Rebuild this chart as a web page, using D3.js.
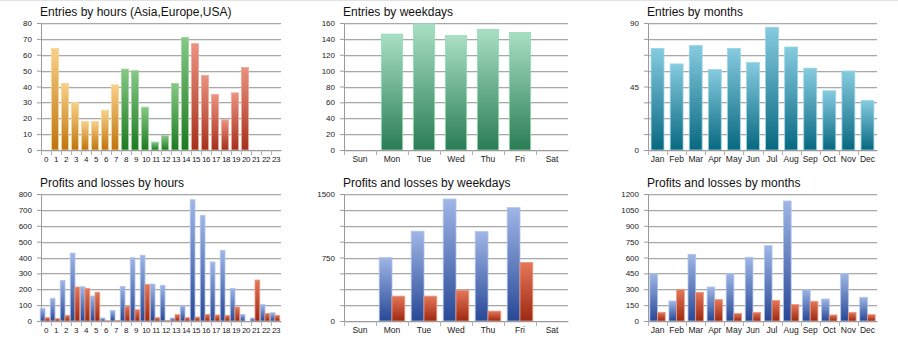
<!DOCTYPE html>
<html lang="en">
<head>
<meta charset="UTF-8">
<title>Entries and profits</title>
<script src="https://d3js.org/d3.v7.min.js"></script>
<style>
  body { margin: 0; background: #fff; }
  text { font-family: "Liberation Sans", Arial, sans-serif; }
</style>
</head>
<body>
<svg width="898" height="354"></svg>
<script>
// ---- data ----
var hourLabels = ["0","1","2","3","4","5","6","7","8","9","10","11","12","13","14","15","16","17","18","19","20","21","22","23"];
var hourEntries = [0,64,42,30,18,18,25,41,51,50,27,5,9,42,71,67,47,35,19,36,52,0,0,0];
var hourRegion = ["asia","asia","asia","asia","asia","asia","asia","asia",
                  "europe","europe","europe","europe","europe","europe","europe",
                  "usa","usa","usa","usa","usa","usa","usa","usa","usa"];
var hourProfits = [80,143,256,428,216,157,19,67,218,399,414,233,225,19,99,764,666,372,445,206,42,19,103,52];
var hourLosses  = [21,15,36,214,206,181,2,4,92,71,231,21,4,40,21,25,42,38,36,88,0,258,48,36];

var dayLabels = ["Sun","Mon","Tue","Wed","Thu","Fri","Sat"];
var dayEntries = [0,146,159,144,152,148,0];
var dayProfits = [0,748,1061,1441,1057,1339,0];
var dayLosses  = [0,294,294,364,117,693,0];

var monthLabels = ["Jan","Feb","Mar","Apr","May","Jun","Jul","Aug","Sep","Oct","Nov","Dec"];
var monthEntries = [72,61,74,57,72,62,87,73,58,42,56,35];
var monthProfits = [447,189,630,321,450,602,712,1134,299,208,450,224];
var monthLosses  = [82,299,271,202,72,82,195,157,186,57,82,60];

var hourEntryTicks = [0,10,20,30,40,50,60,70,80];
var dayEntryTicks = [0,20,40,60,80,100,120,140,160];
var monthEntryGrid = [0,11.25,22.5,33.75,45,56.25,67.5,78.75,90];
var monthEntryLabels = [0,45,90];
var hourPLTicks = [0,100,200,300,400,500,600,700,800];
var dayPLGrid = [0,187.5,375,562.5,750,937.5,1125,1312.5,1500];
var dayPLLabels = [0,750,1500];
var monthPLTicks = [0,150,300,450,600,750,900,1050,1200];

// ---- gradients ----
var svg = d3.select("svg");
var defs = svg.append("defs");
var palette = {
  asia:    ["#f9d088", "#bf740c", "#f7d59a"],
  europe:  ["#86c986", "#1d7a20", "#9fd59f"],
  usa:     ["#ec9280", "#a5301c", "#f0a898"],
  weekday: ["#a9dfc3", "#2a7d55", "#93dcb5"],
  month:   ["#86cbe0", "#076880", "#9ad5e6"],
  profit:  ["#9fb6e6", "#284896", "#b0c4ec"],
  loss:    ["#e5775a", "#9c2810", "#eb9a82"]
};
Object.keys(palette).forEach(function(k) {
  var g = defs.append("linearGradient").attr("id", "g-" + k)
    .attr("x1", 0).attr("y1", 0).attr("x2", 0).attr("y2", 1);
  g.append("stop").attr("offset", "0%").attr("stop-color", palette[k][0]);
  g.append("stop").attr("offset", "100%").attr("stop-color", palette[k][1]);
});

// faint frame line at top
svg.append("line").attr("x1", 0).attr("x2", 898).attr("y1", 0.5).attr("y2", 0.5)
  .attr("stroke", "#e2e2e2");

function drawChart(o) {
  var g = svg.append("g");
  var x = d3.scaleBand().domain(o.labels).range([o.x0, o.x1]).paddingInner(0).paddingOuter(0);
  var y = d3.scaleLinear().domain([0, o.max]).range([o.y1, o.y0]);

  g.append("text").attr("x", o.x0 - 1).attr("y", o.y0 - 7)
    .attr("font-size", 12).attr("fill", "#111").text(o.title);

  // grid
  g.selectAll(".grid").data(o.grid).enter().append("line")
    .attr("x1", o.x0).attr("x2", o.x1)
    .attr("y1", function(d) { return Math.round(y(d)) + 0.5; })
    .attr("y2", function(d) { return Math.round(y(d)) + 0.5; })
    .attr("stroke", "#a8a8a8");
  g.selectAll(".grid2").data(o.grid).enter().append("line")
    .attr("x1", o.x0).attr("x2", o.x1)
    .attr("y1", function(d) { return Math.round(y(d)) + 1.5; })
    .attr("y2", function(d) { return Math.round(y(d)) + 1.5; })
    .attr("stroke", "#e6e6e6");

  // y axis
  var ya = d3.axisLeft(y).tickValues(o.grid).tickSize(4)
    .tickFormat(function(d) { return o.yLabels.indexOf(d) >= 0 ? d : ""; });
  var yg = g.append("g").attr("transform", "translate(" + o.x0 + ",0)").call(ya);
  yg.select(".domain").attr("stroke", "#9a9a9a");
  yg.selectAll(".tick line").attr("stroke", "#9a9a9a");
  yg.selectAll(".tick text").attr("font-size", 8).attr("fill", "#222").attr("x", -9)
    .attr("font-family", "'Liberation Sans', Arial, sans-serif");

  // bars
  var n = o.series.length;
  var inner = d3.scaleBand().domain(d3.range(n))
    .range([0, x.bandwidth()]).paddingOuter(o.pad / 2).paddingInner(0);
  o.series.forEach(function(s, si) {
    g.selectAll(".bar" + si).data(s.values).enter().append("rect")
      .attr("x", function(d, i) { return x(o.labels[i]) + inner(si) + o.shift; })
      .attr("width", inner.bandwidth())
      .attr("y", function(d) { return y(d); })
      .attr("height", function(d) { return y(0) - y(d); })
      .attr("fill", function(d, i) { return "url(#g-" + s.color(i) + ")"; })
      .attr("stroke", function(d, i) { return d > 0 ? palette[s.color(i)][2] : "none"; })
      .attr("stroke-width", 0.8);
  });

  // x axis
  var xa = d3.axisBottom(x).tickSize(0).tickPadding(6);
  var xg = g.append("g").attr("transform", "translate(0," + o.y1 + ")").call(xa);
  xg.select(".domain").attr("stroke", "#9a9a9a");
  xg.selectAll(".tick text").attr("font-size", o.xFont).attr("fill", "#222")
    .attr("letter-spacing", o.xSpacing)
    .attr("font-family", "'Liberation Sans', Arial, sans-serif");
  g.selectAll(".xtick").data(o.labels).enter().append("line")
    .attr("x1", function(d) { return Math.round(x(d)) + 0.5; })
    .attr("x2", function(d) { return Math.round(x(d)) + 0.5; })
    .attr("y1", o.y1).attr("y2", o.y1 + 5)
    .attr("stroke", "#b0b0b0");
}

var regionColor = function(i) { return hourRegion[i]; };

drawChart({ title: "Entries by hours (Asia,Europe,USA)", labels: hourLabels,
  x0: 41, x1: 281, y0: 23, y1: 150, max: 80, grid: hourEntryTicks, yLabels: hourEntryTicks,
  pad: 0.4, shift: -1, xFont: 8, xSpacing: -0.4, series: [{ values: hourEntries, color: regionColor }] });

drawChart({ title: "Entries by weekdays", labels: dayLabels,
  x0: 344, x1: 568, y0: 23, y1: 150, max: 160, grid: dayEntryTicks, yLabels: dayEntryTicks,
  pad: 0.5, shift: 0, xFont: 8.5, xSpacing: 0, series: [{ values: dayEntries, color: function() { return "weekday"; } }] });

drawChart({ title: "Entries by months", labels: monthLabels,
  x0: 648, x1: 877, y0: 23, y1: 150, max: 90, grid: monthEntryGrid, yLabels: monthEntryLabels,
  pad: 0.48, shift: 0, xFont: 8.5, xSpacing: 0, series: [{ values: monthEntries, color: function() { return "month"; } }] });

drawChart({ title: "Profits and losses by hours", labels: hourLabels,
  x0: 41, x1: 281, y0: 194, y1: 321, max: 800, grid: hourPLTicks, yLabels: hourPLTicks,
  pad: 0.1, shift: -1, xFont: 8, xSpacing: -0.4, series: [
    { values: hourProfits, color: function() { return "profit"; } },
    { values: hourLosses, color: function() { return "loss"; } }] });

drawChart({ title: "Profits and losses by weekdays", labels: dayLabels,
  x0: 344, x1: 568, y0: 194, y1: 321, max: 1500, grid: dayPLGrid, yLabels: dayPLLabels,
  pad: 0.5, shift: 0, xFont: 8.5, xSpacing: 0, series: [
    { values: dayProfits, color: function() { return "profit"; } },
    { values: dayLosses, color: function() { return "loss"; } }] });

drawChart({ title: "Profits and losses by months", labels: monthLabels,
  x0: 648, x1: 877, y0: 194, y1: 321, max: 1200, grid: monthPLTicks, yLabels: monthPLTicks,
  pad: 0.48, shift: 0, xFont: 8.5, xSpacing: 0, series: [
    { values: monthProfits, color: function() { return "profit"; } },
    { values: monthLosses, color: function() { return "loss"; } }] });
</script>
</body>
</html>
